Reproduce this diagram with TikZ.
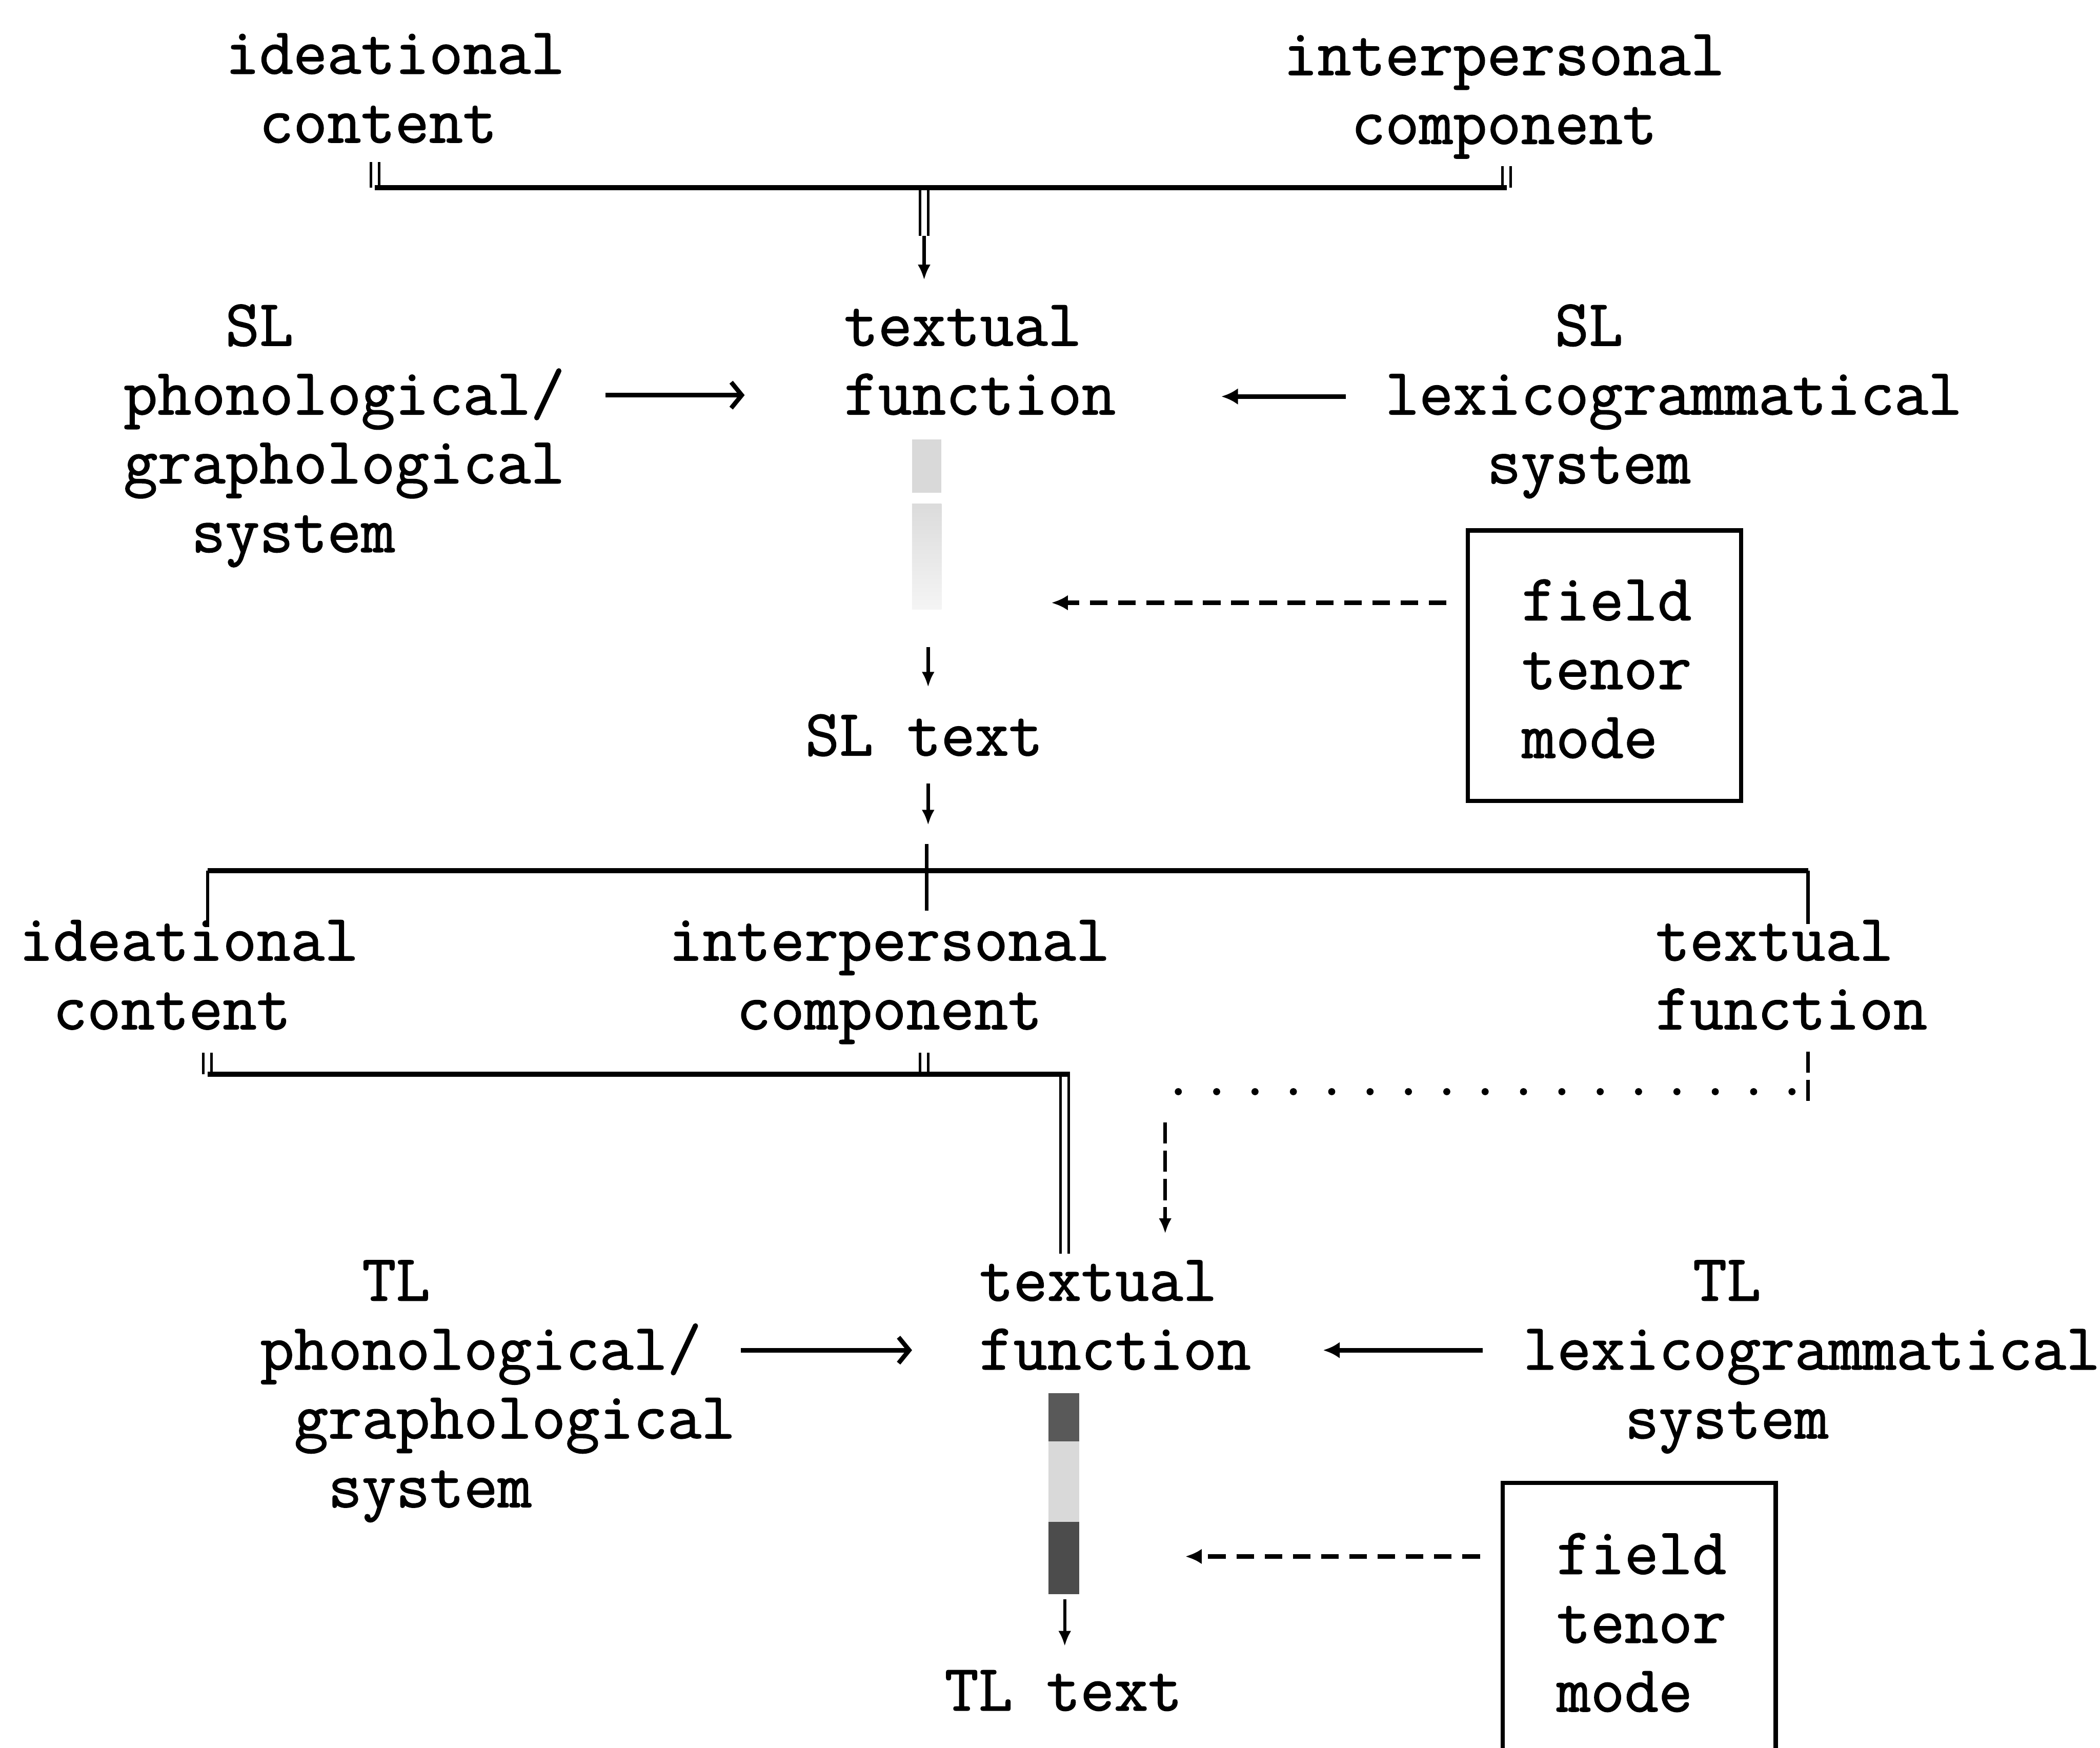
\documentclass[tikz,border=0pt]{standalone}
\usepackage{fontspec}
\setmonofont{Latin Modern Mono}[RawFeature={embolden=1.3}]
\usetikzlibrary{arrows.meta}

% multi-line label: baseline of the node is the baseline of the first line
\newcommand{\txtblock}[1]{\begin{tabular}[t]{@{}l@{}}#1\end{tabular}}
% blank cells of the monospaced grid
\newcommand{\pad}[1]{\hphantom{#1}}

\tikzset{
  lbl/.style={anchor=base west, inner sep=0pt,
              font=\fontsize{28}{29.25}\selectfont\ttfamily},
  barline/.style={line width=2.1pt},
  legline/.style={line width=1.4pt},
  dbl/.style={double, double distance=2.4pt, line width=1.1pt},
  downarr/.style={line width=1.4pt, -{Latex[length=6.5pt,width=5.5pt]}},
  rarr/.style={line width=1.9pt, -{Straight Barb[length=4.5pt,width=11pt,line width=1.9pt]}},
  larr/.style={line width=2pt, -{Latex[length=7pt,width=7pt]}},
  dasharr/.style={line width=2pt, dash pattern=on 7.5pt off 4.5pt,
                  -{Latex[length=7pt,width=6.5pt]}},
  vdash/.style={line width=1.4pt, dash pattern=on 9pt off 3pt},
  dotline/.style={line width=3pt, line cap=round, dash pattern=on 0pt off 16.3pt},
  frame/.style={draw, line width=1.9pt, rectangle, inner sep=0pt},
}

\begin{document}
\begin{tikzpicture}[x=0.02cm, y=-0.02cm]
\useasboundingbox (0,0) rectangle (1568,1305);

% ---------- source-language level ----------
\node[lbl] (ideaA)  at (168,55)  {\txtblock{ideational\\\pad{i}content}};
\node[lbl] (interA) at (958,56)  {\txtblock{interpersonal\\\pad{in}component}};

\coordinate (tbL) at (280,140);   \coordinate (tbLtop) at (280,121);
\coordinate (tbR) at (1125,140);  \coordinate (tbRtop) at (1125,124);
\coordinate (tbM) at (690,140);   \coordinate (tbS) at (690,176);
\coordinate (tbE) at (690,209);

\draw[dbl] (tbLtop) -- (tbL);
\draw[dbl] (tbRtop) -- (tbR);
\draw[dbl] (tbM) -- (tbS);
\draw[downarr] (tbS) -- (tbE);
\draw[barline] (tbL) -- (tbR);

\node[lbl] (tfSL)   at (630,258) {\txtblock{textual\\function}};
\node[lbl] (phonSL) at (92,258)  {\txtblock{\pad{phn}SL\\phonological/\\graphological\\\pad{ph}system}};
\node[lbl] (lexSL)  at (1034,258) {\txtblock{\pad{lexic}SL\\lexicogrammatical\\\pad{lex}system}};

\coordinate (phonSLout) at (452,295);  \coordinate (tfSLin) at (556,295);
\coordinate (lexSLout) at (1005,296);  \coordinate (tfSLinR) at (912,296);
\draw[rarr] (phonSLout) -- (tfSLin);
\draw[larr] (lexSLout) -- (tfSLinR);

% realisation bar
\fill[gray!30] (681,328) rectangle (703,368);
\shade[top color=gray!28, bottom color=gray!8] (681,376) rectangle (703,455);

\node[frame, minimum width=4.08cm, minimum height=4.04cm] (boxSL) at (1198,497) {};
\node[lbl] (ftmSL) at (1136,463) {\txtblock{field\\tenor\\mode}};
\coordinate (boxSLout) at (1080,450); \coordinate (barSLin) at (785,450);
\draw[dasharr] (boxSLout) -- (barSLin);

\coordinate (barSLend) at (693,483); \coordinate (slTop) at (693,513);
\draw[downarr] (barSLend) -- (slTop);
\node[lbl] (sltext) at (601,564) {SL text};
\coordinate (slBot) at (693,585); \coordinate (slTip) at (693,616);
\draw[downarr] (slBot) -- (slTip);

% ---------- branching into the target-language level ----------
\coordinate (bbL) at (155,650); \coordinate (bbR) at (1350,650);
\coordinate (bbLend) at (155,692); \coordinate (bbRend) at (1350,690);
\coordinate (bbMtop) at (692,630); \coordinate (bbMend) at (692,680);
\draw[legline] (bbL) -- (bbLend);
\draw[legline] (bbR) -- (bbRend);
\draw[legline] (bbMtop) -- (bbMend);
\draw[barline] (bbL) -- (bbR);

\node[lbl] (ideaB)  at (14,717)   {\txtblock{ideational\\\pad{i}content}};
\node[lbl] (interB) at (499,717)  {\txtblock{interpersonal\\\pad{in}component}};
\node[lbl] (tfB)    at (1236,717) {\txtblock{textual\\function}};

\coordinate (cbL) at (155,802); \coordinate (cbLtop) at (155,786);
\coordinate (cbM) at (690,802); \coordinate (cbMtop) at (690,786);
\coordinate (cbC) at (795,802); \coordinate (cbCend) at (795,936);
\coordinate (cbCout) at (799,802);
\draw[dbl] (cbLtop) -- (cbL);
\draw[dbl] (cbMtop) -- (cbM);
\draw[dbl] (cbC) -- (cbCend);
\draw[barline] (cbL) -- (cbCout);

\coordinate (tfBa) at (1350,785); \coordinate (tfBb) at (1350,826);
\coordinate (dotR) at (1338,815); \coordinate (dotL) at (870,815);
\coordinate (dtop) at (870,838);  \coordinate (dtip) at (870,921);
\draw[vdash] (tfBa) -- (tfBb);
\draw[dotline] (dotR) -- (dotL);
\draw[vdash, -{Latex[length=6.5pt,width=5.5pt]}] (dtop) -- (dtip);

% ---------- target-language level ----------
\node[lbl] (tfTL)   at (731,971)  {\txtblock{textual\\function}};
\node[lbl] (phonTL) at (194,971)  {\txtblock{\pad{phn}TL\\phonological/\\\pad{p}graphological\\\pad{ph}system}};
\node[lbl] (lexTL)  at (1137,971) {\txtblock{\pad{lexic}TL\\lexicogrammatical\\\pad{lex}system}};

\coordinate (phonTLout) at (553,1008); \coordinate (tfTLin) at (681,1008);
\coordinate (lexTLout) at (1107,1008); \coordinate (tfTLinR) at (988,1008);
\draw[rarr] (phonTLout) -- (tfTLin);
\draw[larr] (lexTLout) -- (tfTLinR);

% realisation bar
\fill[black!65] (783,1040) rectangle (806,1076);
\fill[gray!30]  (783,1076) rectangle (806,1136);
\fill[black!70] (783,1136) rectangle (806,1190);

\node[frame, minimum width=4.08cm, minimum height=4.66cm] (boxTL) at (1224,1223.5) {};
\node[lbl] (ftmTL) at (1162,1175) {\txtblock{field\\tenor\\mode}};
\coordinate (boxTLout) at (1105,1162); \coordinate (barTLin) at (885,1162);
\draw[dasharr] (boxTLout) -- (barTLin);

\coordinate (barTLend) at (795,1194); \coordinate (tlTop) at (795,1229);
\draw[downarr] (barTLend) -- (tlTop);
\node[lbl] (tltext) at (705,1277) {TL text};
\end{tikzpicture}
\end{document}
